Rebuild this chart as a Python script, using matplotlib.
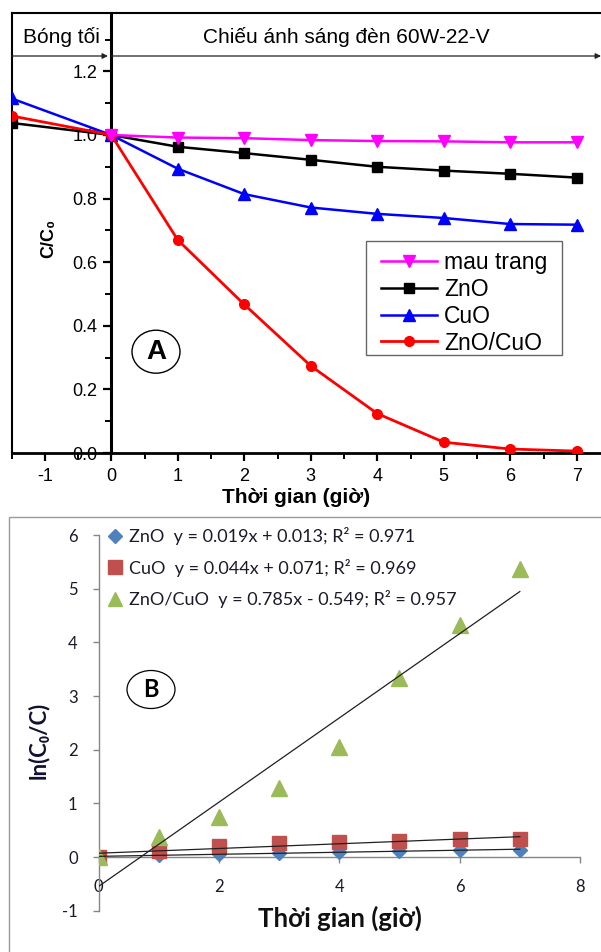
import numpy as np
import matplotlib
matplotlib.use("Agg")
import matplotlib.pyplot as plt
from matplotlib.patches import Ellipse, Rectangle
from matplotlib.lines import Line2D
from matplotlib.ticker import MultipleLocator

# ---- data, panel A (C/C0 vs time) ----
time_a = [-1.5, 0, 1, 2, 3, 4, 5, 6, 7]
mau_trang = [1.0, 0.992, 0.990, 0.984, 0.981, 0.980, 0.977, 0.977]   # starts at t=0
zno_a = [1.038, 1.0, 0.963, 0.943, 0.922, 0.900, 0.888, 0.878, 0.866]
cuo_a = [1.115, 1.0, 0.894, 0.814, 0.772, 0.752, 0.739, 0.720, 0.718]
znocuo_a = [1.060, 1.0, 0.670, 0.467, 0.274, 0.124, 0.034, 0.0125, 0.006]

# ---- data, panel B (ln(C0/C) vs time) ----
time_b = [0, 1, 2, 3, 4, 5, 6, 7]
ln_zno = [0, 0.03, 0.05, 0.08, 0.10, 0.12, 0.13, 0.14]
ln_cuo = [0, 0.11, 0.21, 0.26, 0.28, 0.30, 0.33, 0.33]
ln_znocuo = [0, 0.38, 0.75, 1.28, 2.05, 3.33, 4.33, 5.36]
names_b = ["ZnO", "CuO", "ZnO/CuO"]
slopes = [0.019, 0.044, 0.785]
intercepts = [0.013, 0.071, -0.549]
r2 = [0.971, 0.969, 0.957]

W, H = 601, 952
arial = ["Liberation Sans", "DejaVu Sans"]
calibri = ["Lato", "DejaVu Sans"]
plt.rcParams["font.family"] = arial
plt.rcParams["axes.unicode_minus"] = False


def fx(px):
    return px / W


def fy(py):
    return 1 - py / H


fig = plt.figure(figsize=(W / 100, H / 100), dpi=100)

# ================= panel A =================
x0a, unit_x = 111.25, 66.5
y0a, unit_y = 453.0, 318.0
left_a, top_a = 11.5, 13.3
ax = fig.add_axes([fx(left_a), fy(y0a), (W - left_a) / W, (y0a - top_a) / H])
ax.set_xlim(-1.5, -1.5 + (W - left_a) / unit_x)
ax.set_ylim(0, (y0a - top_a) / unit_y)

ax.plot(time_a[1:], mau_trang, color="#FF00FF", lw=1.8, marker="v", ms=8.5, label="mau trang", zorder=5)
ax.plot(time_a, zno_a, color="black", lw=1.8, marker="s", ms=6.5, label="ZnO", zorder=4)
ax.plot(time_a, cuo_a, color="#0000FF", lw=1.8, marker="^", ms=8.5, label="CuO", zorder=4)
ax.plot(time_a, znocuo_a, color="#FF0000", lw=2.0, marker="o", ms=7, label="ZnO/CuO", zorder=4)

ax.spines["right"].set_visible(False)
ax.spines["left"].set_position(("data", 0))
ax.spines["left"].set_linewidth(2.2)
ax.spines["bottom"].set_linewidth(2.0)
ax.spines["top"].set_linewidth(1.5)
# outer left border of the frame
ax.add_line(Line2D([0, 0], [0, 1], transform=ax.transAxes, color="black", lw=1.5, clip_on=False))

ax.xaxis.set_major_locator(MultipleLocator(1))
ax.xaxis.set_minor_locator(MultipleLocator(0.5))
ax.yaxis.set_major_locator(MultipleLocator(0.2))
ax.yaxis.set_minor_locator(MultipleLocator(0.1))
ax.yaxis.set_major_formatter(matplotlib.ticker.FormatStrFormatter("%.1f"))
ax.tick_params(which="major", direction="out", length=6, width=1.6, labelsize=13, pad=4)
ax.tick_params(which="minor", direction="out", length=4, width=1.4)
ax.tick_params(axis="x", which="major", pad=5)

# header strip: dark period / light period with arrows
y_head = (y0a - 56) / unit_y
arrow_kw = dict(arrowstyle="-|>", lw=0.9, color="#222222", mutation_scale=8, shrinkA=0, shrinkB=0)
ax.annotate("", xy=(-0.05, y_head), xytext=(-1.5, y_head), arrowprops=arrow_kw, annotation_clip=False)
ax.annotate("", xy=(1.0, y_head), xytext=(0, y_head), xycoords=("axes fraction", "data"),
            textcoords="data", arrowprops=arrow_kw, annotation_clip=False)
fig.text(fx(61), fy(37), "Bóng tối", fontsize=15, ha="center", va="center")
fig.text(fx(346), fy(37), "Chiếu ánh sáng đèn 60W-22-V", fontsize=15, ha="center", va="center")

fig.text(fx(49), fy(238), "C/C₀", fontsize=13, fontweight="bold", rotation=90, ha="center", va="center")
fig.text(fx(296), fy(497), "Thời gian (giờ)", fontsize=15, fontweight="bold", ha="center", va="center")

# legend A: frame drawn separately so the padding can follow the original box
leg = ax.legend(loc="upper left", bbox_to_anchor=(fx(381), fy(251.5)), bbox_transform=fig.transFigure,
                fontsize=16.5, handlelength=2.45, handletextpad=0.3, labelspacing=0.16, borderpad=0,
                borderaxespad=0, frameon=False, numpoints=1)
fig.add_artist(Rectangle((fx(365.7), fy(355)), (561.7 - 365.7) / W, (355 - 240.7) / H,
                         transform=fig.transFigure, fill=False, lw=1.0, ec="#666666"))

fig.add_artist(Ellipse((fx(156), fy(351.7)), 48 / W, 43 / H, transform=fig.transFigure,
                       fill=False, lw=1.0, ec="black"))
fig.text(fx(156), fy(351.7), "A", fontsize=20, fontweight="bold", ha="center", va="center")

# ================= panel B =================
fig.add_artist(Rectangle((fx(9), fy(516.5) - 1), 2, 1, transform=fig.transFigure,
                         fill=False, lw=1.0, ec="#9a9a9a"))
bx_left, bx_right = 98.5, 580.0
by_top, by_bot = 535.0, 910.7
bx = fig.add_axes([fx(bx_left), fy(by_bot), (bx_right - bx_left) / W, (by_bot - by_top) / H])
bx.set_xlim(0, 8)
bx.set_ylim(-1, 6)

colors_b = ["#4F81BD", "#C0504D", "#9BBB59"]
markers_b = ["D", "s", "^"]
sizes_b = [7.5, 10.5, 11]
series_b = [ln_zno, ln_cuo, ln_znocuo]
for name, ys, c, m, ms, k, b0, r in zip(names_b, series_b, colors_b, markers_b, sizes_b, slopes, intercepts, r2):
    sign = "+" if b0 >= 0 else "-"
    lab = f"{name}  y = {k:.3f}x {sign} {abs(b0):.3f}; R² = {r:.3f}"
    bx.plot(time_b, ys, linestyle="none", marker=m, ms=ms, color=c, label=lab, zorder=3)
    tt = np.array([time_b[0], time_b[-1]])
    bx.plot(tt, k * tt + b0, color="#202020", lw=0.9, zorder=4)

for s in ["top", "right"]:
    bx.spines[s].set_visible(False)
bx.spines["bottom"].set_position(("data", 0))
for s in ["left", "bottom"]:
    bx.spines[s].set_color("#868686")
    bx.spines[s].set_linewidth(1.0)
bx.xaxis.set_major_locator(MultipleLocator(2))
bx.yaxis.set_major_locator(MultipleLocator(1))
bx.tick_params(direction="out", length=4, width=1.0, color="#868686", labelsize=12,
               labelcolor="#1a1a2a")
bx.tick_params(axis="x", pad=12)
bx.tick_params(axis="y", pad=11)
for t in bx.get_xticklabels() + bx.get_yticklabels():
    t.set_family(calibri)

legb = bx.legend(loc="upper left", bbox_to_anchor=(fx(107), fy(527)), bbox_transform=fig.transFigure,
                 prop={"family": calibri, "size": 13}, frameon=False, handlelength=0.9,
                 handletextpad=0.3, labelspacing=0.76, borderpad=0, borderaxespad=0, numpoints=1,
                 markerscale=0.9)
for t in legb.get_texts():
    t.set_color("#1a1a2a")

fig.text(fx(38), fy(740), "ln(C₀/C)", family=calibri, fontsize=16, fontweight="bold",
         rotation=90, ha="center", va="center", color="#101030")
fig.text(fx(340), fy(918), "Thời gian (giờ)", family=calibri, fontsize=18.5, fontweight="bold",
         ha="center", va="center", color="#101010")

fig.add_artist(Ellipse((fx(151), fy(689.5)), 48 / W, 38 / H, transform=fig.transFigure,
                       fill=False, lw=0.9, ec="black"))
fig.text(fx(151), fy(689.5), "B", family=calibri, fontsize=17, fontweight="bold", ha="center", va="center")

fig.savefig("out.png", dpi=100)
